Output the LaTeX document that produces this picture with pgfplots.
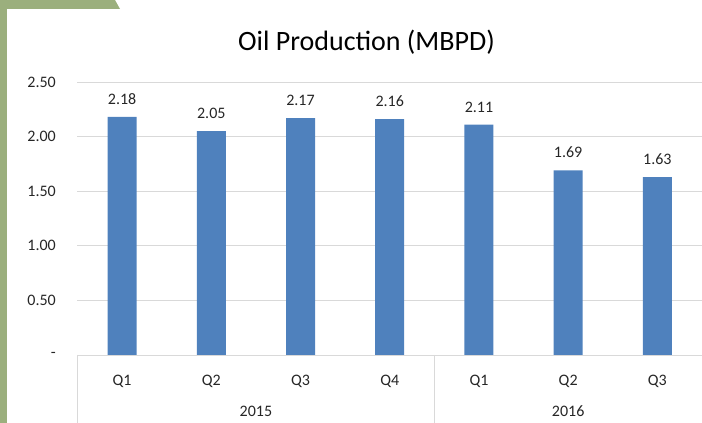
\documentclass[border=0pt]{standalone}
\usepackage{pgfplots}
\pgfplotsset{compat=1.18}
\usepackage{fontspec}
\setmainfont{Carlito}
\definecolor{barblue}{HTML}{4F81BD}
\definecolor{sage}{HTML}{9BAF7D}
\definecolor{gridgray}{HTML}{D9D9D9}
\definecolor{labelgray}{HTML}{262626}

\begin{document}
\begin{tikzpicture}
\useasboundingbox (0pt,0pt) rectangle (702pt,423pt);
% slide frame on the left and top
\fill[sage] (0pt,0pt) rectangle (7pt,423pt);
\fill[sage] (0pt,423pt) -- (115pt,423pt) -- (120pt,414pt) -- (0pt,414pt) -- cycle;
% title
\node[anchor=base, font=\fontsize{28}{30}\selectfont, text=black] at (366.5pt,372.5pt) {Oil Production (MBPD)};
\begin{axis}[
  at={(122.1pt,68pt)}, anchor=origin,
  scale only axis, width=624.5pt, height=273pt,
  ymin=0, ymax=2.5, xmin=-0.5, xmax=6.5,
  ytick={0,0.5,1,1.5,2,2.5},
  yticklabels={-\hspace{12pt},0.50,1.00,1.50,2.00,2.50},
  xtick={0,1,2,3,4,5,6},
  xticklabels={Q1,Q2,Q3,Q4,Q1,Q2,Q3},
  ymajorgrids, grid style={gridgray, line width=0.8pt},
  axis line style={draw=none},
  major tick length=0pt, tick label style={font=\fontsize{16}{18}\selectfont, text=labelgray, inner sep=0pt},
  yticklabel style={anchor=east, xshift=-21.5pt},
  xticklabel style={anchor=base, yshift=-31pt},
  ybar, bar width=29pt,
  nodes near coords,
  nodes near coords style={font=\fontsize{16}{18}\selectfont, text=labelgray, anchor=base, inner sep=0pt, yshift=12.5pt,
    /pgf/number format/assume math mode=true,
    /pgf/number format/fixed, /pgf/number format/fixed zerofill, /pgf/number format/precision=2},
  clip=false,
]
\addplot[fill=barblue, draw=none] coordinates {
  (0,2.18) (1,2.05) (2,2.17) (3,2.16) (4,2.11) (5,1.69) (6,1.63)
};
% year groups under the quarter labels
\draw[gridgray, line width=0.8pt] (axis cs:-0.5,0) -- ++(0pt,-68pt);
\draw[gridgray, line width=0.8pt] (axis cs:3.5,0) -- ++(0pt,-68pt);
\draw[gridgray, line width=0.8pt] (axis cs:6.5,0) -- ++(0pt,-68pt);
\node[anchor=base, font=\fontsize{16}{18}\selectfont, text=labelgray, inner sep=0pt] at (axis cs:1.5,0) [yshift=-62pt] {2015};
\node[anchor=base, font=\fontsize{16}{18}\selectfont, text=labelgray, inner sep=0pt] at (axis cs:5,0) [yshift=-62pt] {2016};
\end{axis}
\end{tikzpicture}
\end{document}
